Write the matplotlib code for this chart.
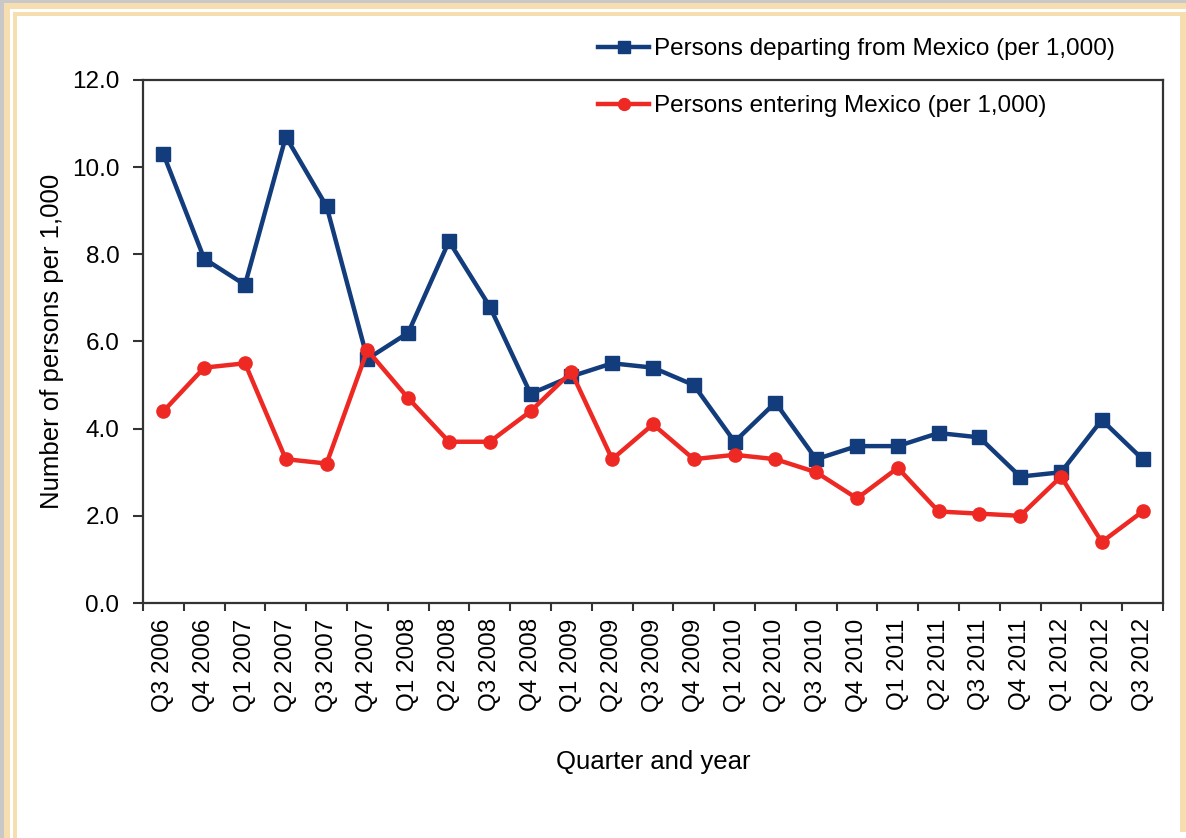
import matplotlib.pyplot as plt
from matplotlib.patches import Rectangle
from matplotlib.ticker import FixedLocator, FormatStrFormatter

plt.rcParams['font.family'] = ['Liberation Sans', 'DejaVu Sans']

quarters = [
    "Q3 2006", "Q4 2006", "Q1 2007", "Q2 2007", "Q3 2007", "Q4 2007",
    "Q1 2008", "Q2 2008", "Q3 2008", "Q4 2008", "Q1 2009", "Q2 2009",
    "Q3 2009", "Q4 2009", "Q1 2010", "Q2 2010", "Q3 2010", "Q4 2010",
    "Q1 2011", "Q2 2011", "Q3 2011", "Q4 2011", "Q1 2012", "Q2 2012",
    "Q3 2012",
]
departing = [10.3, 7.9, 7.3, 10.7, 9.1, 5.6, 6.2, 8.3, 6.8, 4.8, 5.2, 5.5,
             5.4, 5.0, 3.7, 4.6, 3.3, 3.6, 3.6, 3.9, 3.8, 2.9, 3.0, 4.2, 3.3]
entering = [4.4, 5.4, 5.5, 3.3, 3.2, 5.8, 4.7, 3.7, 3.7, 4.4, 5.3, 3.3,
            4.1, 3.3, 3.4, 3.3, 3.0, 2.4, 3.1, 2.1, 2.05, 2.0, 2.9, 1.4, 2.1]

W, H = 1186, 838
fig = plt.figure(figsize=(W / 100, H / 100), dpi=100)

# page frame (gray edge + double tan border)
tan = '#f6deb0'
def px_rect(x, y, w, h, color):
    fig.patches.append(Rectangle((x / W, 1 - (y + h) / H), w / W, h / H,
                                 transform=fig.transFigure, color=color,
                                 zorder=0, lw=0))
px_rect(0, 0, W, 3, '#c8c8c8')
px_rect(0, 0, 4, H, '#c8c8c8')
px_rect(4, 3, W - 4, 6, tan)
px_rect(4, 3, 6, H - 3, tan)
px_rect(13, 12, W - 13, 4, tan)
px_rect(13, 12, 4, H - 12, tan)
px_rect(1180, 12, 6, 820, tan)

ax = fig.add_axes([143 / W, 1 - 603 / H, 1020 / W, 523 / H])

x = list(range(len(quarters)))
blue = '#123c7c'
red = '#ee2822'
ax.plot(x, departing, color=blue, lw=3.2, marker='s', markersize=9.5,
        label='Persons departing from Mexico (per 1,000)', clip_on=False)
ax.plot(x, entering, color=red, lw=3.2, marker='o', markersize=9.5,
        label='Persons entering Mexico (per 1,000)', clip_on=False)

ax.set_xlim(-0.5, len(quarters) - 0.5)
ax.set_ylim(0, 12)
ax.set_yticks([0, 2, 4, 6, 8, 10, 12])
ax.yaxis.set_major_formatter(FormatStrFormatter('%.1f'))

# ticks at category boundaries, labels centred on categories
ax.xaxis.set_major_locator(FixedLocator([i - 0.5 for i in range(len(quarters) + 1)]))
ax.xaxis.set_minor_locator(FixedLocator(x))
ax.set_xticklabels([], minor=False)
ax.set_xticklabels(quarters, minor=True, rotation=90)
ax.tick_params(axis='x', which='major', length=6, width=1.5, color='#333333')
ax.tick_params(axis='x', which='minor', length=0, pad=11, labelsize=17.5)
ax.tick_params(axis='y', length=7, width=1.5, color='#333333', pad=10,
               labelsize=17.5)

for s in ax.spines.values():
    s.set_linewidth(1.6)
    s.set_color('#333333')

ax.set_ylabel('Number of persons per 1,000', fontsize=18.5, labelpad=6)
ax.set_xlabel('Quarter and year', fontsize=18.5, labelpad=28)

fig.legend(loc='upper left', bbox_to_anchor=(598 / W, 1 - 38 / H),
           frameon=False, fontsize=17.5, handlelength=2.1, handletextpad=0.2,
           labelspacing=1.45, borderaxespad=0, borderpad=0, markerscale=0.9)

fig.savefig('out.png', dpi=100)
